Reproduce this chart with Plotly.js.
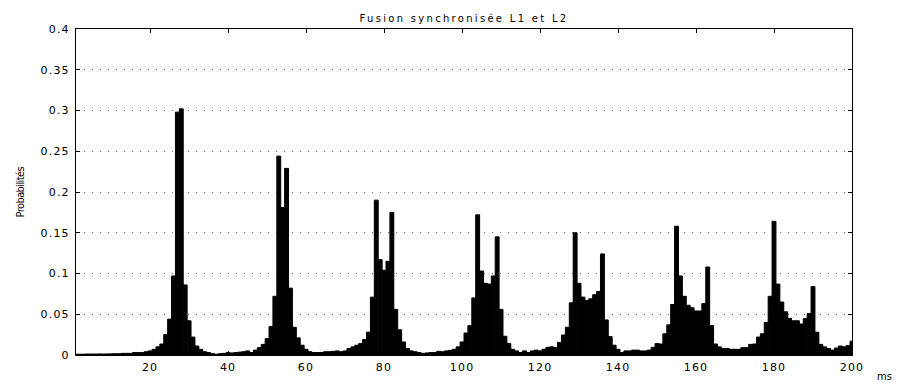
<!DOCTYPE html>
<html>
<head>
<meta charset="utf-8">
<script src="https://cdn.plot.ly/plotly-3.0.1.min.js"></script>
<style>
html,body{margin:0;padding:0;background:#fff;}
#chart{width:900px;height:383px;}
.xtick text,.ytick text{letter-spacing:1.2px;}
.gtitle{letter-spacing:2.3px;}
.ylabel-ann text{letter-spacing:-0.6px;}
</style>
</head>
<body>
<div id="chart"></div>
<script>
// Probability per 1-ms bin (bins 1..200)
const probabilities = [
  0.001, 0.001, 0.001, 0.0012, 0.0012, 0.0012, 0.0013, 0.0012, 0.0013, 0.0014,
  0.0015, 0.0015, 0.002, 0.002, 0.002, 0.003, 0.003, 0.003, 0.004, 0.005,
  0.007, 0.010, 0.0135, 0.025, 0.044, 0.097, 0.298, 0.302, 0.086, 0.042,
  0.022, 0.011, 0.007, 0.004, 0.003, 0.0016, 0.001, 0.0016, 0.002, 0.003,
  0.0025, 0.003, 0.0035, 0.004, 0.005, 0.003, 0.006, 0.009, 0.013, 0.020,
  0.035, 0.072, 0.244, 0.181, 0.229, 0.082, 0.034, 0.021, 0.012, 0.007,
  0.004, 0.003, 0.003, 0.003, 0.004, 0.004, 0.0045, 0.005, 0.004, 0.005,
  0.008, 0.010, 0.012, 0.014, 0.019, 0.028, 0.071, 0.190, 0.117, 0.104,
  0.115, 0.175, 0.056, 0.031, 0.016, 0.008, 0.005, 0.004, 0.003, 0.002,
  0.0025, 0.003, 0.003, 0.0045, 0.004, 0.005, 0.0057, 0.007, 0.010, 0.016,
  0.027, 0.036, 0.070, 0.172, 0.103, 0.088, 0.087, 0.097, 0.145, 0.056,
  0.023, 0.014, 0.007, 0.005, 0.003, 0.005, 0.003, 0.005, 0.006, 0.005,
  0.007, 0.0094, 0.010, 0.009, 0.0155, 0.0245, 0.034, 0.064, 0.150, 0.088,
  0.071, 0.067, 0.069, 0.074, 0.078, 0.124, 0.043, 0.0225, 0.012, 0.007,
  0.003, 0.005, 0.005, 0.006, 0.006, 0.005, 0.005, 0.006, 0.0094, 0.014,
  0.0135, 0.026, 0.037, 0.062, 0.158, 0.097, 0.072, 0.061, 0.058, 0.054,
  0.054, 0.063, 0.108, 0.036, 0.0135, 0.010, 0.008, 0.008, 0.007, 0.007,
  0.007, 0.009, 0.009, 0.013, 0.0135, 0.022, 0.026, 0.040, 0.072, 0.164,
  0.087, 0.065, 0.053, 0.045, 0.042, 0.042, 0.038, 0.0446, 0.051, 0.084,
  0.028, 0.013, 0.010, 0.008, 0.006, 0.0086, 0.011, 0.010, 0.0115, 0.017
];
const ms = probabilities.map((_, i) => i + 1);

const xTickVals = [20, 40, 60, 80, 100, 120, 140, 160, 180, 200];
const yTickVals = [0, 0.05, 0.1, 0.15, 0.2, 0.25, 0.3, 0.35, 0.4];
const yTickText = ['0', '0.05', '0.1', '0.15', '0.2', '0.25', '0.3', '0.35', '0.4'];

const chartTitle = 'Fusion synchronisée L1 et L2';
const yLabel = 'Probabilités';
const xLabel = 'ms';

const tickFont = {family: 'DejaVu Sans, Arial, sans-serif', size: 11, color: '#000'};

const data = [{
  type: 'bar',
  x: ms,
  y: probabilities,
  width: 1,
  marker: {color: '#000', line: {color: '#000', width: 1}},
  hoverinfo: 'x+y'
}];

const layout = {
  width: 900,
  height: 383,
  margin: {l: 76, r: 48, t: 29, b: 28, pad: 0},
  paper_bgcolor: '#fff',
  plot_bgcolor: '#fff',
  showlegend: false,
  bargap: 0,
  title: {
    text: chartTitle,
    font: {family: 'DejaVu Sans, Arial, sans-serif', size: 10, color: '#000'},
    xref: 'paper', x: 0.5, xanchor: 'center',
    yref: 'container', y: 1 - 18 / 383, yanchor: 'middle'
  },
  xaxis: {
    range: [1, 200],
    tickmode: 'array',
    tickvals: xTickVals,
    ticks: 'inside',
    ticklen: 4,
    tickcolor: '#000',
    showline: true,
    linecolor: '#000',
    linewidth: 1,
    mirror: 'ticks',
    showgrid: false,
    zeroline: false,
    tickfont: tickFont,
    ticklabelstandoff: 2
  },
  yaxis: {
    range: [0, 0.4],
    tickmode: 'array',
    tickvals: yTickVals,
    ticktext: yTickText,
    ticks: 'inside',
    ticklen: 4,
    tickcolor: '#000',
    showline: true,
    linecolor: '#000',
    linewidth: 1,
    mirror: 'ticks',
    showgrid: true,
    gridcolor: '#666',
    gridwidth: 1,
    griddash: '1px,7px',
    zeroline: false,
    tickfont: tickFont,
    ticklabelstandoff: 3
  },
  annotations: [
    {
      text: yLabel,
      xref: 'paper', yref: 'paper',
      x: (20 - 76) / 776, y: 0.5,
      xanchor: 'center', yanchor: 'middle',
      textangle: -90,
      showarrow: false,
      font: {family: 'Liberation Sans Narrow, DejaVu Sans Condensed, Arial Narrow, sans-serif', size: 11, color: '#000'}
    },
    {
      text: xLabel,
      xref: 'paper', yref: 'paper',
      x: (884 - 76) / 776, y: (355 - 376) / 326,
      xanchor: 'center', yanchor: 'middle',
      showarrow: false,
      font: {family: 'DejaVu Sans, Arial, sans-serif', size: 10, color: '#000'}
    }
  ]
};

Plotly.newPlot('chart', data, layout, {staticPlot: true, displayModeBar: false}).then(function () {
  const anns = document.querySelectorAll('.annotation');
  if (anns.length) anns[0].classList.add('ylabel-ann');
});
</script>
</body>
</html>
